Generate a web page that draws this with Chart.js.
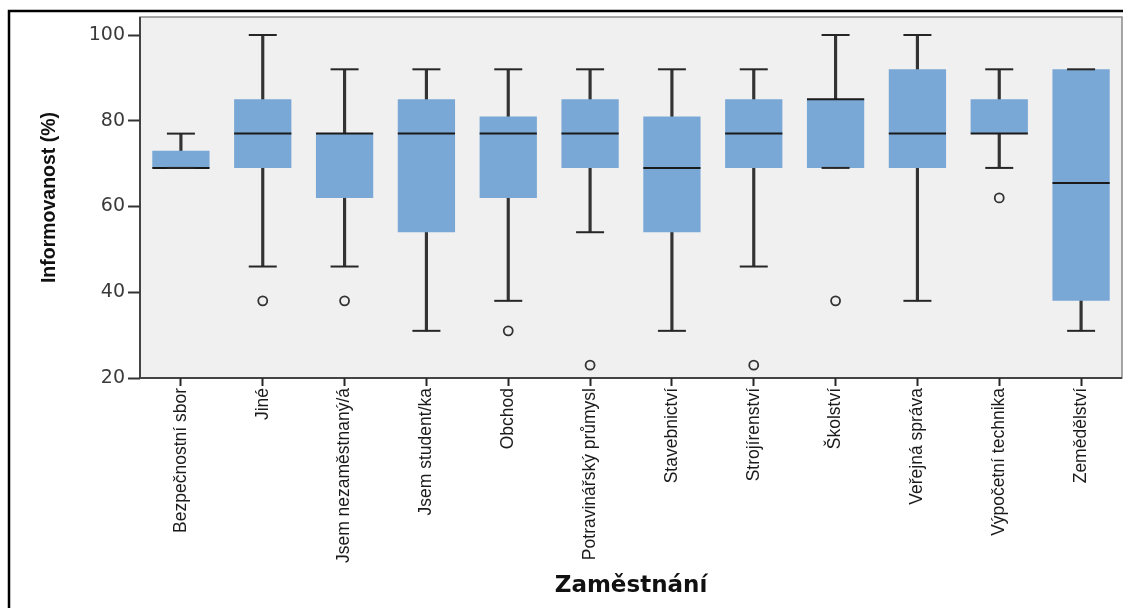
<!DOCTYPE html>
<html lang="cs">
<head>
<meta charset="utf-8">
<title>Informovanost podle zaměstnání</title>
<script src="https://cdn.jsdelivr.net/npm/chart.js@4.4.1/dist/chart.umd.min.js"></script>
<style>
  html, body { margin: 0; padding: 0; background: #fff; }
  #wrap { width: 1123px; height: 608px; }
</style>
</head>
<body>
<div id="wrap"><canvas id="boxChart" width="1123" height="608"></canvas></div>
<script>
const categories = [
  "Bezpečnostní sbor",
  "Jiné",
  "Jsem nezaměstnaný/á",
  "Jsem student/ka",
  "Obchod",
  "Potravinářský průmysl",
  "Stavebnictví",
  "Strojírenství",
  "Školství",
  "Veřejná správa",
  "Výpočetní technika",
  "Zemědělství",
];

// five-number summaries (%)
const whiskerLow = [69, 46, 46, 31, 38, 54, 31, 46, 69, 38, 69, 31];
const quartile1 = [69, 69, 62, 54, 62, 69, 54, 69, 69, 69, 77, 38];
const medians = [69, 77, 77, 77, 77, 77, 69, 77, 85, 77, 77, 65.5];
const quartile3 = [73, 85, 77, 85, 81, 85, 81, 85, 85, 92, 85, 92];
const whiskerHigh = [77, 100, 92, 92, 92, 92, 92, 92, 100, 100, 92, 92];

const outlierCategories = [
  "Jiné",
  "Jsem nezaměstnaný/á",
  "Obchod",
  "Potravinářský průmysl",
  "Strojírenství",
  "Školství",
  "Výpočetní technika",
];
const outlierValues = [38, 38, 31, 23, 23, 38, 62];

const yTicks = [20, 40, 60, 80, 100];

const BOX_FILL = "#7aa8d6";
const PLOT_BG = "#f0f0f0";
const INK = "#262626";

const plotFrame = {
  id: "plotFrame",
  beforeDraw(chart) {
    const { ctx, chartArea: a } = chart;
    ctx.save();
    ctx.fillStyle = "#fff";
    ctx.fillRect(0, 0, chart.width, chart.height);
    ctx.fillStyle = PLOT_BG;
    ctx.fillRect(a.left, a.top, a.right - a.left, a.bottom - a.top);
    ctx.strokeStyle = "#8a8a8a";
    ctx.lineWidth = 1.5;
    ctx.strokeRect(a.left, a.top, a.right - a.left, a.bottom - a.top);
    ctx.strokeStyle = "#444";
    ctx.lineWidth = 2;
    ctx.beginPath();
    ctx.moveTo(a.left, a.top);
    ctx.lineTo(a.left, a.bottom);
    ctx.lineTo(a.right, a.bottom);
    ctx.stroke();
    // picture frame (top and left edge only)
    ctx.strokeStyle = "#000";
    ctx.lineWidth = 2.5;
    ctx.beginPath();
    ctx.moveTo(9, chart.height);
    ctx.lineTo(9, 11);
    ctx.lineTo(chart.width, 11);
    ctx.stroke();
    ctx.restore();
  },
};

function noScalePadding(scale) {
  scale.paddingLeft = 0;
  scale.paddingRight = 0;
  scale.paddingTop = 0;
  scale.paddingBottom = 0;
}

new Chart(document.getElementById("boxChart"), {
  data: {
    labels: categories,
    datasets: [
      {
        type: "bar",
        label: "Box",
        data: quartile1.map((v, i) => [v, quartile3[i]]),
        backgroundColor: BOX_FILL,
        barPercentage: 0.7,
        categoryPercentage: 1,
        grouped: false,
        order: 2,
      },
      {
        type: "bar",
        label: "Whisker",
        data: whiskerLow.map((v, i) => [v, whiskerHigh[i]]),
        backgroundColor: "#333",
        barThickness: 2.5,
        grouped: false,
        order: 3,
      },
      {
        type: "line",
        label: "Caps",
        data: categories.flatMap((c, i) => [
          { x: c, y: whiskerLow[i] },
          { x: c, y: whiskerHigh[i] },
        ]),
        showLine: false,
        pointStyle: "line",
        pointRadius: 14,
        pointBorderWidth: 2,
        pointBorderColor: INK,
        order: 1,
      },
      {
        type: "line",
        label: "Median",
        data: categories.map((c, i) => ({ x: c, y: medians[i] })),
        showLine: false,
        pointStyle: "line",
        pointRadius: 28.6,
        pointBorderWidth: 2,
        pointBorderColor: "#1a1a1a",
        order: 1,
      },
      {
        type: "line",
        label: "Outliers",
        data: outlierCategories.map((c, i) => ({ x: c, y: outlierValues[i] })),
        showLine: false,
        pointStyle: "circle",
        pointRadius: 4.5,
        pointBorderWidth: 1.8,
        pointBorderColor: "#333",
        pointBackgroundColor: "rgba(0,0,0,0)",
        order: 0,
      },
    ],
  },
  options: {
    responsive: false,
    animation: false,
    layout: {
      autoPadding: false,
      padding: { top: 17, left: 0, right: 1, bottom: 0 },
    },
    plugins: {
      legend: { display: false },
      tooltip: { enabled: false },
    },
    scales: {
      x: {
        type: "category",
        offset: true,
        border: { display: false },
        grid: {
          offset: false,
          drawOnChartArea: false,
          drawTicks: true,
          tickLength: 8,
          tickWidth: 2,
          tickColor: INK,
        },
        ticks: {
          autoSkip: false,
          minRotation: 90,
          maxRotation: 90,
          padding: 2,
          color: "#1a1a1a",
          font: { family: "'Liberation Sans', Arial, sans-serif", size: 17.5 },
        },
        title: {
          display: true,
          text: "Zaměstnání",
          color: "#111",
          font: { family: "'DejaVu Sans', sans-serif", size: 23, weight: "bold" },
          padding: { top: 0, bottom: 8 },
        },
        afterFit(scale) {
          scale.height = 230;
          noScalePadding(scale);
        },
      },
      y: {
        min: 20,
        max: 104.2,
        border: { display: false },
        grid: {
          drawOnChartArea: false,
          drawTicks: true,
          tickLength: 12,
          tickWidth: 2,
          tickColor: "#333",
        },
        afterBuildTicks(scale) {
          scale.ticks = yTicks.map((value) => ({ value }));
        },
        ticks: {
          padding: 3,
          color: "#3a3a3a",
          font: { family: "'DejaVu Sans', sans-serif", size: 19 },
        },
        title: {
          display: true,
          text: "Informovanost (%)",
          color: "#111",
          font: { family: "'Liberation Sans', Arial, sans-serif", size: 19.5, weight: "bold" },
          padding: { top: 38, bottom: 0 },
        },
        afterFit(scale) {
          scale.width = 140;
          noScalePadding(scale);
        },
      },
    },
  },
  plugins: [plotFrame],
});
</script>
</body>
</html>
